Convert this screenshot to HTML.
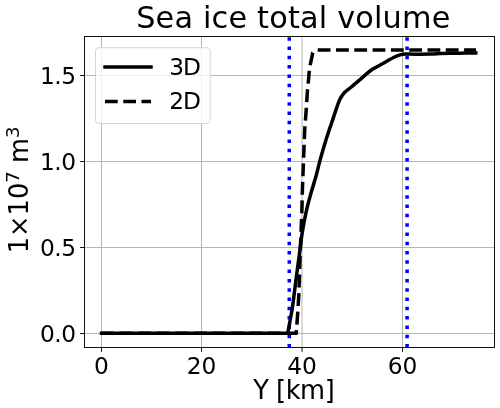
<!DOCTYPE html>
<html><head><meta charset="utf-8"><title>Sea ice total volume</title>
<style>
html,body{margin:0;padding:0;background:#fff;}
svg{display:block;}
text{font-family:"DejaVu Sans","Liberation Sans",sans-serif;fill:#000;}
</style></head><body>
<svg width="500" height="408" viewBox="0 0 500 408">
<rect x="0" y="0" width="500" height="408" fill="#fff"/>
<!-- grid -->
<g stroke="#b0b0b0" stroke-width="0.93" fill="none">
<path d="M101.5 36.5V347.5M201.5 36.5V347.5M302 36.5V347.5M402.5 36.5V347.5"/>
<path d="M84.5 333.5H494.5M84.5 247.5H494.5M84.5 161.5H494.5M84.5 75.5H494.5"/>
</g>
<!-- ticks -->
<g stroke="#000" stroke-width="0.93" fill="none">
<path d="M101.5 347.5v4.4M201.5 347.5v4.4M302 347.5v4.4M402.5 347.5v4.4"/>
<path d="M84.5 333.5h-4.4M84.5 247.5h-4.4M84.5 161.5h-4.4M84.5 75.5h-4.4"/>
</g>
<!-- dashed 2D -->
<path id="d2" d="M101.5 333.3H296.25L296.85 324.70L297.80 312.00L298.90 293.70L300.30 250.00L301.80 213.50L302.40 190.00L303.60 158.00L304.70 130.00L306.20 110.00L307.50 90.00L308.20 83.40L309.30 70.90L310.20 65.00L312.80 52.70L314.30 50.70" stroke="#000" stroke-width="3.5" stroke-dasharray="12.95 5.6" stroke-dashoffset="0.5" fill="none" stroke-linejoin="round"/>
<path id="d2b" d="M317.7 50.1H476" stroke="#000" stroke-width="3.5" stroke-dasharray="12.8 5.5" fill="none"/>
<!-- blue dotted -->
<g stroke="#0000ff" stroke-width="3.5" stroke-dasharray="3.5 5.797" fill="none">
<path id="b1" d="M289.25 347.5V36.5"/>
<path id="b2" d="M407.1 347.5V36.5"/>
</g>
<!-- solid 3D -->
<path id="s3" d="M101.5 333.3H287.7C287.79 332.83 287.88 332.44 288.25 330.50C288.62 328.56 289.36 324.60 289.90 321.65C290.44 318.70 291.00 315.74 291.50 312.80C292.00 309.86 292.09 309.97 292.90 304.00C293.71 298.03 295.22 285.67 296.35 277.00C297.48 268.33 298.82 258.67 299.70 252.00C300.57 245.33 300.85 242.10 301.60 237.00C302.35 231.90 303.20 226.62 304.20 221.40C305.20 216.18 306.42 210.60 307.60 205.70C308.78 200.80 309.94 196.78 311.30 192.00C312.66 187.22 314.34 182.10 315.75 177.00C317.16 171.90 318.34 166.62 319.75 161.40C321.16 156.18 322.63 150.93 324.20 145.70C325.77 140.47 327.92 133.78 329.15 130.00C330.38 126.22 330.33 126.77 331.60 123.00C332.88 119.23 335.44 111.32 336.80 107.40C338.16 103.48 338.85 101.47 339.75 99.50C340.65 97.53 341.32 96.85 342.20 95.60C343.07 94.35 344.00 93.03 345.00 92.00C346.00 90.97 347.13 90.23 348.20 89.40C349.27 88.57 349.77 88.35 351.40 87.00C353.03 85.65 355.82 83.18 358.00 81.30C360.18 79.42 362.33 77.55 364.50 75.70C366.67 73.85 368.75 71.78 371.00 70.20C373.25 68.62 375.50 67.62 378.00 66.20C380.50 64.78 383.33 63.20 386.00 61.70C388.67 60.20 391.67 58.33 394.00 57.20C396.33 56.07 398.00 55.42 400.00 54.90C402.00 54.38 402.67 54.22 406.00 54.10C409.33 53.98 416.00 54.20 420.00 54.20C424.00 54.20 426.67 54.20 430.00 54.10C433.33 54.00 435.00 53.76 440.00 53.60C445.00 53.44 454.03 53.27 460.00 53.15C465.97 53.03 473.17 52.94 475.80 52.90" stroke="#000" stroke-width="3.5" fill="none" stroke-linejoin="round" stroke-linecap="square"/>
<!-- axes frame -->
<rect x="84.5" y="36.5" width="410" height="311" fill="none" stroke="#000" stroke-width="0.93"/>
<!-- legend -->
<rect x="95.5" y="47.7" width="114.7" height="75.8" rx="3.3" ry="3.3" fill="#fff" fill-opacity="0.8" stroke="#cccccc" stroke-opacity="0.8" stroke-width="1"/>
<path d="M105 67.1H151" stroke="#000" stroke-width="3.5" stroke-linecap="square" fill="none"/>
<path d="M105 101.4H151" stroke="#000" stroke-width="3.5" stroke-dasharray="12.75 5.5" fill="none"/>
<text id="l1" x="169.3" y="75" font-size="23.3" letter-spacing="-1">3D</text>
<text id="l2" x="169.3" y="109.4" font-size="23.3" letter-spacing="-1">2D</text>
<!-- tick labels -->
<g font-size="23.3" text-anchor="middle">
<text x="101.5" y="373.5">0</text>
<text x="201.5" y="373.5">20</text>
<text x="302" y="373.5">40</text>
<text x="402.5" y="373.5">60</text>
</g>
<g font-size="23.3" text-anchor="end" letter-spacing="-0.5">
<text x="75.5" y="341.5">0.0</text>
<text x="75.5" y="255.5">0.5</text>
<text x="75.5" y="169.5">1.0</text>
<text x="75.5" y="83.5">1.5</text>
</g>
<text id="xl" x="293.7" y="399" font-size="25.7" text-anchor="middle" letter-spacing="-0.45">Y [km]</text>
<text id="yl" transform="translate(28.4 253.3) rotate(-90)" font-size="25.7">1×10<tspan font-size="18" dy="-9.9">7</tspan><tspan dy="9.9"> m</tspan><tspan font-size="18" dy="-9.9">3</tspan></text>
<text id="ti" x="136.2" y="28.4" font-size="30.3" letter-spacing="0.19">Sea ice total volume</text>
</svg>
</body></html>
